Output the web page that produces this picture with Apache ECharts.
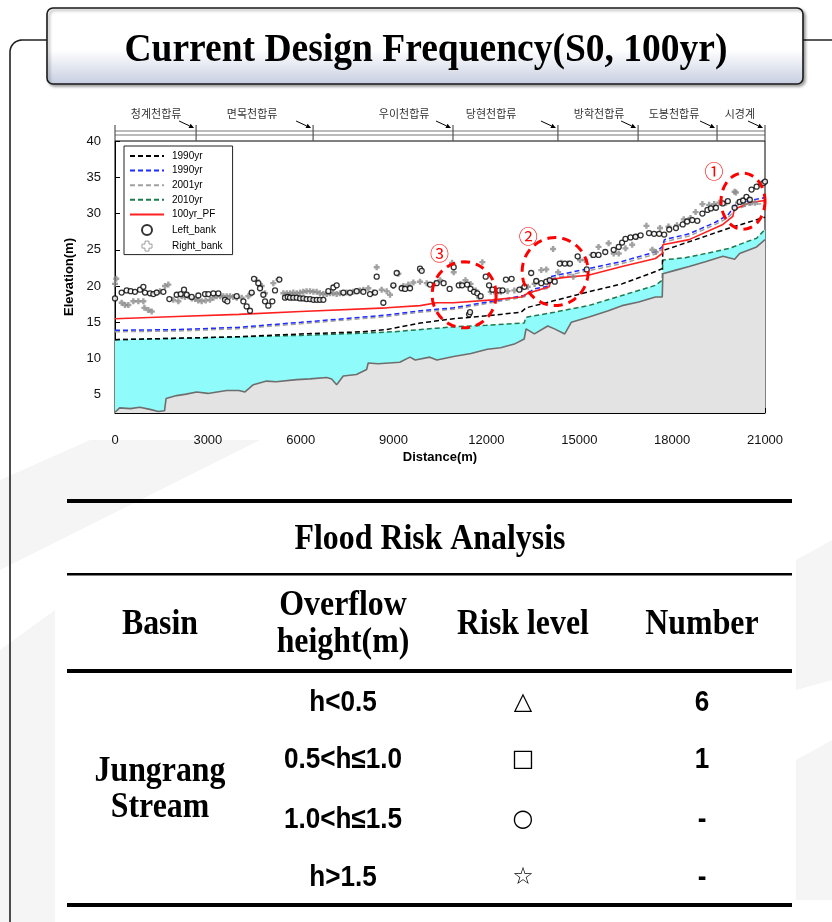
<!DOCTYPE html>
<html>
<head>
<meta charset="utf-8">
<script src="https://cdn.jsdelivr.net/npm/echarts@6/dist/echarts.min.js"></script>
<style>
  html, body { margin: 0; padding: 0; background: #fff; }
  #chart { width: 832px; height: 922px; }
</style>
</head>
<body>
<div id="chart"></div>
<script>
// ---------- axis ticks ----------
const xTicks = [0, 3000, 6000, 9000, 12000, 15000, 18000, 21000];
const yTicks = [5, 10, 15, 20, 25, 30, 35, 40];

// ---------- longitudinal profile (distance m, elevation m) ----------
const riverBed = [
  [0, 2.6], [150, 3.2], [500, 3.1], [800, 3.3], [1130, 3.0], [1400, 2.7], [1600, 2.8],
  [1650, 4.5], [1990, 4.9], [2300, 5.1], [2640, 5.4], [3000, 5.2], [3300, 5.4], [3610, 5.6],
  [4000, 5.6], [4200, 5.4], [4470, 6.4], [4900, 6.9], [5200, 6.8], [5870, 7.1], [6300, 7.2],
  [6840, 7.4], [7000, 7.2], [7160, 6.4], [7375, 7.6], [7800, 7.8], [8130, 8.5], [8180, 9.4],
  [8500, 9.3], [9200, 9.5], [9530, 10.2], [9700, 9.8], [10170, 10.2], [10400, 9.8],
  [10940, 10.3], [11500, 10.7], [12030, 11.3], [12460, 11.5], [12900, 12.0], [13220, 12.7],
  [13280, 14.1], [13550, 13.4], [13980, 14.5], [14200, 14.1], [14530, 13.4], [14740, 15.0],
  [15290, 15.7], [15940, 16.6], [16380, 17.3], [16920, 17.8], [17460, 18.5], [17680, 18.5],
  [17700, 21.7], [18120, 22.2], [18550, 22.7], [19100, 23.4], [19640, 24.1], [20020, 23.7],
  [20180, 24.5], [20730, 25.4], [21000, 26.4]
];
const levee1990 = [
  [0, 12.6], [2000, 12.8], [3900, 13.0], [6000, 13.4], [8000, 13.7], [8780, 14.0],
  [9860, 14.9], [10940, 15.5], [12030, 15.9], [13120, 16.4], [13280, 17.0], [14200, 18.0],
  [15290, 19.2], [16380, 20.3], [17460, 22.0], [17680, 22.4], [17700, 24.9], [18750, 26.4],
  [19850, 28.0], [21000, 29.5]
];
const levee1990b = [
  [0, 13.9], [2000, 14.0], [3930, 14.3], [6000, 15.0], [8780, 16.0], [9860, 16.6],
  [10940, 17.0], [12300, 18.0], [13220, 18.7], [13550, 19.6], [14000, 20.0], [14060, 21.3],
  [15290, 22.4], [16380, 23.4], [17460, 24.7], [17680, 25.4], [17750, 26.4], [18550, 27.2],
  [19400, 28.8], [19800, 29.8], [20070, 31.3], [20500, 31.8], [21000, 32.2]
];
const levee2001 = [
  [0, 13.7], [2000, 13.8], [3930, 14.1], [6000, 14.8], [8780, 15.8], [9860, 16.4],
  [10940, 16.8], [12300, 17.8], [13220, 18.5], [13550, 19.3], [14000, 19.7], [14060, 21.0],
  [15290, 22.1], [16380, 23.1], [17460, 24.4], [17680, 25.1], [17750, 26.1], [18550, 26.9],
  [19400, 28.5], [19800, 29.4], [20070, 30.6], [20500, 31.2], [21000, 31.4]
];
const levee2010 = [
  [0, 12.6], [2000, 12.8], [4000, 13.0], [6000, 13.2], [8000, 13.5], [9000, 13.7],
  [10390, 14.2], [11000, 14.4], [12000, 14.6], [13220, 14.9], [13280, 15.7], [14200, 16.4],
  [15290, 17.3], [16380, 18.7], [17460, 20.1], [17680, 20.8], [17700, 23.6], [18420, 23.9],
  [19100, 24.5], [19850, 25.2], [20400, 26.1], [20730, 26.6], [21000, 27.8]
];
const floodLevel100yr = [
  [0, 15.5], [2000, 15.8], [4000, 16.1], [6000, 16.5], [8780, 17.0], [9860, 17.3],
  [10390, 17.7], [10940, 17.7], [12200, 18.1], [13120, 18.5], [13340, 19.0], [14030, 19.9],
  [14080, 20.9], [14530, 21.2], [15290, 21.5], [16380, 22.7], [17460, 23.8], [17680, 24.5],
  [17700, 25.7], [18550, 26.4], [19640, 28.5], [19960, 29.6], [20010, 30.6], [20500, 31.5],
  [21000, 31.8]
];
const leftBank = [
  [0, 18.3], [215, 19.1], [377, 19.4], [506, 19.3], [646, 19.2], [808, 19.5], [916, 19.9],
  [969, 19.1], [1131, 19.0], [1239, 18.9], [1346, 19.1], [1562, 19.2], [1756, 18.2],
  [1993, 18.8], [2122, 18.9], [2230, 19.5], [2316, 18.8], [2477, 18.5], [2693, 18.7],
  [2908, 18.9], [3016, 18.9], [3177, 19.0], [3339, 19.0], [3554, 18.1], [3630, 17.9],
  [3931, 18.6], [4147, 17.9], [4254, 17.2], [4362, 16.6], [4416, 19.1], [4491, 21.0],
  [4631, 20.4], [4685, 19.7], [4793, 18.8], [4847, 17.9], [4954, 17.3], [5083, 17.9],
  [5170, 19.4], [5310, 20.9], [5493, 18.4], [5580, 18.5], [5654, 18.4], [5760, 18.4],
  [5870, 18.4], [5980, 18.3], [6085, 18.3], [6190, 18.2], [6301, 18.2], [6410, 18.1],
  [6516, 18.1], [6620, 18.1], [6731, 18.1], [6893, 19.3], [7055, 19.8], [7162, 20.1],
  [7378, 19.1], [7593, 19.1], [7808, 19.3], [8024, 19.2], [8239, 18.9], [8401, 19.1],
  [8455, 21.3], [8670, 17.7], [8993, 20.1], [9101, 21.8], [9262, 19.7], [9370, 19.6],
  [9532, 19.7], [9855, 22.4], [9909, 22.1], [10178, 20.2], [10393, 20.4], [10617, 20.4],
  [10812, 19.6], [10943, 22.6], [11106, 20.1], [11215, 20.1], [11378, 20.2], [11487, 19.6],
  [11596, 19.2], [11705, 19.0], [11813, 18.6], [11440, 16.1], [11470, 16.4], [11977, 21.3],
  [12085, 20.1], [12194, 19.5], [12412, 19.4], [12521, 19.4], [12630, 20.9], [12814, 21.0],
  [13065, 19.5], [13228, 19.9], [13446, 21.8], [13609, 20.7], [13772, 20.4], [13935, 20.6],
  [14044, 20.8], [14207, 20.6], [14370, 23.1], [14533, 23.1], [14697, 23.1], [14947, 24.1],
  [15241, 22.3], [15458, 24.3], [15622, 24.3], [15839, 24.7], [16111, 25.0], [16274, 25.4],
  [16383, 26.0], [16492, 26.5], [16655, 26.7], [16818, 26.8], [16981, 27.0], [17253, 27.3],
  [17417, 27.2], [17580, 27.2], [17743, 27.1], [17906, 27.8], [18123, 28.0], [18342, 28.5],
  [18484, 28.9], [18649, 29.1], [18813, 29.0], [18977, 30.0], [19141, 30.5], [19251, 30.7],
  [19415, 30.8], [19634, 31.4], [19798, 31.7], [20017, 30.8], [20182, 31.6], [20291, 31.8],
  [20401, 32.3], [20510, 31.9], [20565, 33.3], [20729, 33.7], [20948, 34.2], [21000, 34.4]
];
const rightBank = [
  [0, 20.3], [40, 21.0], [215, 17.7], [323, 17.4], [431, 17.4], [593, 17.9], [754, 17.9],
  [916, 17.9], [950, 17.0], [1077, 16.7], [1185, 16.5], [1346, 19.1], [1454, 19.3],
  [1616, 20.0], [1723, 20.2], [1885, 18.1], [2046, 17.9], [2154, 18.6], [2260, 18.5],
  [2370, 18.6], [2480, 18.3], [2585, 18.2], [2690, 18.0], [2800, 17.9], [2930, 18.0],
  [3070, 18.1], [3180, 18.4], [3285, 18.6], [3400, 18.6], [3500, 18.6], [3610, 18.6],
  [3716, 18.6], [3820, 18.5], [3931, 18.4], [4093, 18.4], [4308, 18.6], [4416, 19.0],
  [4577, 20.8], [4739, 20.0], [4847, 19.0], [5116, 20.4], [5277, 20.9], [5439, 19.0],
  [5550, 19.0], [5654, 19.0], [5760, 19.1], [5870, 19.0], [5980, 19.1], [6085, 19.2],
  [6190, 19.3], [6301, 19.3], [6410, 19.2], [6516, 19.2], [6620, 19.0], [6731, 18.9],
  [6840, 18.9], [6947, 19.0], [7050, 19.0], [7162, 18.9], [7270, 19.0], [7378, 19.0],
  [7480, 19.1], [7593, 19.0], [7700, 19.2], [7808, 19.3], [7910, 19.4], [8024, 19.5],
  [8185, 19.7], [8347, 19.1], [8455, 22.6], [8616, 19.5], [8778, 19.3], [8885, 18.8],
  [8993, 20.0], [9155, 21.7], [9316, 20.0], [9478, 20.2], [9640, 20.5], [9855, 20.6],
  [10070, 20.4], [10339, 20.4], [10508, 20.8], [10889, 23.2], [10943, 21.9], [11161, 20.3],
  [11324, 20.8], [11487, 20.3], [11650, 19.4], [11759, 18.4], [11868, 23.3], [12140, 19.2],
  [12303, 19.0], [12466, 19.2], [12684, 19.3], [12902, 19.4], [13120, 19.6], [13337, 19.9],
  [13555, 20.3], [13772, 22.2], [13935, 22.3], [14153, 25.1], [14316, 21.9], [14425, 23.2],
  [14642, 23.1], [14806, 21.3], [15023, 23.6], [15186, 23.6], [15404, 24.3], [15622, 25.4],
  [15948, 25.9], [16111, 24.5], [16274, 24.5], [16492, 25.2], [16709, 25.7], [16872, 26.8],
  [17170, 28.3], [17362, 25.0], [17471, 24.7], [17608, 28.0], [17882, 28.2], [18156, 28.4],
  [18375, 29.2], [18594, 29.4], [18758, 30.2], [18977, 31.3], [19196, 31.2], [19360, 31.3],
  [19525, 31.5], [19744, 31.5], [20017, 33.0], [20060, 32.9], [20127, 31.5], [20346, 31.3],
  [20510, 31.5], [20674, 31.5], [20839, 34.0], [21000, 34.3]
];

// ---------- tributary confluences along the reach ----------
const tributaryNames = ['청계천합류', '면목천합류', '우이천합류', '당현천합류', '방학천합류', '도봉천합류', '시경계'];
const tributaryLabelAt = [1330, 4430, 9340, 12150, 15640, 18060, 20190];
const tributaryJunctions = [2620, 6400, 10920, 14310, 16900, 19450, 21000];

// ---------- overflow hot spots ----------
const hotspotMarks = ['①', '②', '③'];
const hotspotCenters = [[20290, 31.7], [14220, 22.0], [11280, 18.8]];
const hotspotMarkAt = [[19350, 35.7], [13350, 26.8], [10480, 24.5]];

// ---------- flood risk table ----------
const basinName = ['Jungrang', 'Stream'];
const riskRanges = ['h<0.5', '0.5<h≤1.0', '1.0<h≤1.5', 'h>1.5'];
const riskSymbols = ['△', '□', '○', '☆'];
const riskCounts = ['6', '1', '-', '-'];

// ---------- styling ----------
const SANS = '"Liberation Sans", Arial, sans-serif';
const SERIF = '"Liberation Serif", "Times New Roman", serif';
const hotspotRadius = [[22, 28], [33, 34], [32, 33]];
const plusPath = 'path://M3,0h4v3h3v4h-3v3h-4v-3h-3v-4h3z';
const hiddenMarker = { color: 'rgba(0,0,0,0)', borderColor: 'rgba(0,0,0,0)', borderWidth: 0 };

const chart = echarts.init(document.getElementById('chart'), null, { renderer: 'canvas' });

function lineSeries(name, data, color, type, width, z, extra) {
  return Object.assign({
    name: name, type: 'line', data: data, symbol: 'none', z: z,
    lineStyle: { color: color, type: type, width: width },
    itemStyle: { color: color }
  }, extra || {});
}

const option = {
  animation: false,
  backgroundColor: 'transparent',
  grid: {
    left: 115, right: 67, top: 141, bottom: 509,
    show: true, borderColor: '#000', borderWidth: 1, backgroundColor: '#fff',
    outerBoundsMode: 'none'
  },
  xAxis: {
    type: 'value', min: 0, max: 21000, interval: 3000,
    name: 'Distance(m)', nameLocation: 'middle', nameGap: 38,
    nameTextStyle: { fontFamily: SANS, fontWeight: 'bold', fontSize: 13, color: '#000' },
    axisLine: { lineStyle: { color: '#000', width: 1 } },
    axisTick: { inside: true, length: 5, lineStyle: { color: '#000' } },
    axisLabel: { margin: 21, fontFamily: SANS, fontSize: 13, color: '#111',
                 formatter: function (v) { return String(v); } },
    splitLine: { show: false }
  },
  yAxis: {
    type: 'value', min: 2.5, max: 40,
    name: 'Elevation(m)', nameLocation: 'middle', nameGap: 39, nameRotate: 90,
    nameTextStyle: { fontFamily: SANS, fontWeight: 'bold', fontSize: 13, color: '#000' },
    axisLine: { show: true, lineStyle: { color: '#000', width: 1 } },
    axisTick: { show: true, inside: true, length: 5, lineStyle: { color: '#000' }, customValues: yTicks },
    axisLabel: { margin: 14, fontFamily: SANS, fontSize: 13, color: '#111', customValues: yTicks },
    splitLine: { show: false }
  },
  legend: {
    orient: 'vertical', left: 124, top: 146,
    padding: [5, 10, 3, 5], itemGap: 4.6, itemWidth: 34, itemHeight: 10,
    borderColor: '#222', borderWidth: 1, backgroundColor: '#fff',
    textStyle: { fontFamily: SANS, fontSize: 10, color: '#000', padding: [0, 0, 0, 3] },
    data: [
      { name: '1990yr', itemStyle: hiddenMarker },
      { name: '1990yr ', itemStyle: hiddenMarker },
      { name: '2001yr', itemStyle: hiddenMarker },
      { name: '2010yr', itemStyle: hiddenMarker },
      { name: '100yr_PF', itemStyle: hiddenMarker },
      { name: 'Left_bank', icon: 'circle', itemStyle: { color: '#fff', borderColor: '#000', borderWidth: 2 } },
      { name: 'Right_bank', icon: plusPath, itemStyle: { color: '#fff', borderColor: '#888', borderWidth: 1 } }
    ]
  },
  series: [
    lineSeries('2010yr', levee2010, '#1e7a4e', [5, 3], 1.5, 1,
      { areaStyle: { color: '#8ffbfb', opacity: 1, origin: 'start' } }),
    lineSeries('riverbed', riverBed, '#6e6e6e', 'solid', 1.6, 2,
      { areaStyle: { color: '#e3e3e3', opacity: 1, origin: 'start' } }),
    lineSeries('1990yr', levee1990, '#000', [5, 3], 1.5, 3),
    lineSeries('2001yr', levee2001, '#a0a0a0', [5, 3], 1.5, 3),
    lineSeries('1990yr ', levee1990b, '#1f2cff', [5, 3], 1.5, 4),
    lineSeries('100yr_PF', floodLevel100yr, '#ff2020', 'solid', 1.6, 5),
    {
      name: 'Right_bank', type: 'scatter', data: rightBank, z: 6,
      symbol: plusPath, symbolSize: 6,
      itemStyle: { color: '#8a8a8a' }
    },
    {
      name: 'Left_bank', type: 'scatter', data: leftBank, z: 7,
      symbol: 'circle', symbolSize: 5,
      itemStyle: { color: '#fff', borderColor: '#000', borderWidth: 1.3 }
    }
  ]
};
chart.setOption(option);

// ---------- overlay graphics ----------
function xPix(d) { return chart.convertToPixel({ xAxisIndex: 0 }, d); }
function pt(d, e) { return chart.convertToPixel({ xAxisIndex: 0, yAxisIndex: 0 }, [d, e]); }

const g = [];

// faint diagonal backdrop bands of the slide
[
  [[0, 480], [90, 440], [260, 440], [0, 570]],
  [[0, 650], [55, 610], [55, 922], [0, 922]],
  [[796, 560], [832, 540], [832, 680], [796, 690]],
  [[796, 760], [832, 740], [832, 900], [796, 900]]
].forEach(function (pts) {
  g.push({ type: 'polygon', z: -10, silent: true, shape: { points: pts }, style: { fill: '#f5f5f5' } });
});

// page frame with a rounded top-left corner
const framePts = [[50, 40], [22, 40]];
for (let a = 1; a < 12; a++) {
  const t = Math.PI / 2 + a * (Math.PI / 2) / 12;
  framePts.push([22 + 12 * Math.cos(t), 52 - 12 * Math.sin(t)]);
}
framePts.push([10, 52], [10, 930]);
g.push({ type: 'polyline', z: 0, silent: true, shape: { points: framePts },
  style: { fill: 'none', stroke: '#222', lineWidth: 1.6 } });
g.push({ type: 'line', z: 0, silent: true, shape: { x1: 800, y1: 40, x2: 840, y2: 40 },
  style: { stroke: '#222', lineWidth: 1.6 } });

// title box
g.push({
  type: 'rect', z: 1, silent: true,
  shape: { x: 47, y: 8, width: 756, height: 76, r: 6 },
  style: {
    fill: { type: 'linear', x: 0, y: 0, x2: 0, y2: 1, colorStops: [
      { offset: 0, color: '#ffffff' }, { offset: 0.55, color: '#ffffff' }, { offset: 1, color: '#c5cde0' }
    ] },
    stroke: '#1a1a1a', lineWidth: 1.6,
    shadowBlur: 3, shadowOffsetX: 2, shadowOffsetY: 2, shadowColor: 'rgba(0,0,0,0.35)'
  }
});
g.push({
  type: 'text', z: 2, silent: true, x: 426, y: 50, scaleX: 0.915,
  style: { text: 'Current Design Frequency(S0, 100yr)', font: 'bold 41px ' + SERIF,
           fill: '#000', textAlign: 'center', textVerticalAlign: 'middle' }
});

// tributary strip above the profile
const x0 = xPix(0), x1 = xPix(21000);
g.push({ type: 'line', z: 5, silent: true, shape: { x1: x0, y1: 131, x2: x1, y2: 131 }, style: { stroke: '#777', lineWidth: 1.2 } });
g.push({ type: 'line', z: 5, silent: true, shape: { x1: x0, y1: 135, x2: x1, y2: 135 }, style: { stroke: '#777', lineWidth: 1.2 } });
g.push({ type: 'line', z: 5, silent: true, shape: { x1: x0, y1: 125, x2: x0, y2: 141 }, style: { stroke: '#555', lineWidth: 1.2 } });
tributaryJunctions.forEach(function (d, i) {
  const jx = xPix(d);
  g.push({ type: 'line', z: 5, silent: true, shape: { x1: jx, y1: 125, x2: jx, y2: 141 }, style: { stroke: '#555', lineWidth: 1.2 } });
  const tx = jx - 2, ty = 128, sx = jx - 17, sy = 121;
  const len = Math.hypot(tx - sx, ty - sy), ux = (tx - sx) / len, uy = (ty - sy) / len;
  const bx = tx - ux * 5, by = ty - uy * 5;
  g.push({ type: 'line', z: 5, silent: true, shape: { x1: sx, y1: sy, x2: bx, y2: by }, style: { stroke: '#000', lineWidth: 1 } });
  g.push({ type: 'polygon', z: 5, silent: true,
    shape: { points: [[tx, ty], [bx - uy * 2.4, by + ux * 2.4], [bx + uy * 2.4, by - ux * 2.4]] },
    style: { fill: '#000' } });
  g.push({ type: 'text', z: 5, silent: true, x: xPix(tributaryLabelAt[i]), y: 114,
    style: { text: tributaryNames[i], font: '11px "Noto Sans CJK KR"', fill: '#333',
             textAlign: 'center', textVerticalAlign: 'middle' } });
});

// overflow hot spots (dashed ellipses)
hotspotCenters.forEach(function (c, i) {
  const p = pt(c[0], c[1]);
  const rx = hotspotRadius[i][0], ry = hotspotRadius[i][1];
  const ring = [];
  for (let k = 0; k < 72; k++) {
    const t = k * Math.PI * 2 / 72;
    ring.push([p[0] + rx * Math.cos(t), p[1] + ry * Math.sin(t)]);
  }
  g.push({ type: 'polygon', z: 20, silent: true, shape: { points: ring },
    style: { fill: 'none', stroke: '#ff0000', lineWidth: 3, lineDash: [9, 6] } });
  const q = pt(hotspotMarkAt[i][0], hotspotMarkAt[i][1]);
  g.push({ type: 'text', z: 20, silent: true, x: q[0], y: q[1],
    style: { text: hotspotMarks[i], font: '19px "Noto Sans CJK KR"', fill: '#ff0000',
             textAlign: 'center', textVerticalAlign: 'middle' } });
});

// flood risk table
const tblL = 67, tblW = 725, colX = [160, 343, 523, 702];
[[499, 4], [573, 2.5], [669, 4], [903, 4]].forEach(function (r) {
  g.push({ type: 'rect', z: 5, silent: true, shape: { x: tblL, y: r[0], width: tblW, height: r[1] }, style: { fill: '#000' } });
});
function cellText(x, y, text, font, sx) {
  g.push({ type: 'text', z: 6, silent: true, x: x, y: y, scaleX: sx || 1,
    style: { text: text, font: font, fill: '#000', textAlign: 'center', textVerticalAlign: 'middle' } });
}
const headFont = 'bold 36px ' + SERIF, headScale = 0.885;
const cellFont = 'bold 29px ' + SANS, cellScale = 0.9;
cellText(430, 540, 'Flood Risk Analysis', headFont, headScale);
cellText(colX[0], 625, 'Basin', headFont, headScale);
cellText(colX[1], 606, 'Overflow', headFont, headScale);
cellText(colX[1], 643, 'height(m)', headFont, headScale);
cellText(colX[2], 625, 'Risk level', headFont, headScale);
cellText(colX[3], 625, 'Number', headFont, headScale);
cellText(colX[0], 772, basinName[0], headFont, headScale);
cellText(colX[0], 808, basinName[1], headFont, headScale);
const rowY = [703, 760, 820, 878];
riskRanges.forEach(function (t, i) {
  cellText(colX[1], rowY[i], t, cellFont, cellScale);
  cellText(colX[2], rowY[i], riskSymbols[i], '24px "DejaVu Sans"');
  cellText(colX[3], rowY[i], riskCounts[i], cellFont, cellScale);
});

chart.setOption({ graphic: { elements: g } });
</script>
</body>
</html>
